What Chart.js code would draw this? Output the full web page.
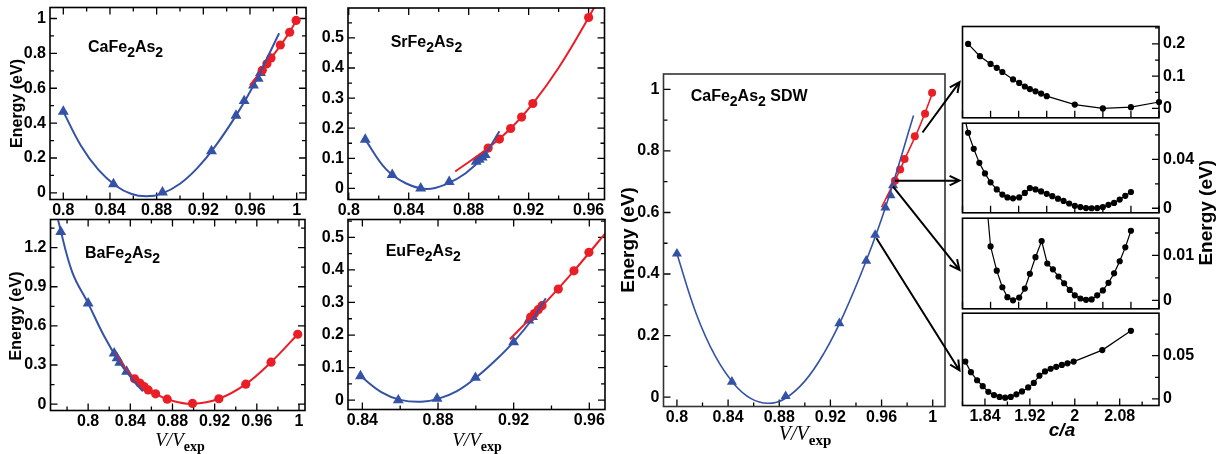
<!DOCTYPE html>
<html>
<head>
<meta charset="utf-8">
<script src="https://cdn.jsdelivr.net/npm/chart.js@4.4.1/dist/chart.umd.min.js"></script>
<style>
html, body { margin: 0; padding: 0; background: #fff; }
#fig { position: relative; width: 1223px; height: 454px; overflow: hidden; background: #fff; }
#fig canvas { position: absolute; }
</style>
</head>
<body>
<div id="fig"></div>
<script>
// ---- CaFe2As2 (top-left panel and the SDW panel) ----
const caTriV = [0.800, 0.843, 0.885, 0.927, 0.948, 0.955, 0.963, 0.967, 0.969];
const caTriE = [0.466, 0.050, 0.003, 0.240, 0.443, 0.527, 0.616, 0.656, 0.688];
const caCircV = [0.9705, 0.9745, 0.978, 0.986, 0.994, 0.9995];
const caCircE = [0.703, 0.740, 0.774, 0.848, 0.921, 0.989];
const caBlueFitV = [0.800, 0.815, 0.830, 0.845, 0.858, 0.871, 0.884, 0.900, 0.915, 0.930, 0.948, 0.963, 0.985];
const caBlueFitE = [0.466, 0.272, 0.133, 0.041, -0.005, -0.020, -0.006, 0.052, 0.143, 0.265, 0.443, 0.616, 0.915];
const caRedFitV = [0.960, 0.970, 0.980, 0.990, 1.000];
const caRedFitE = [0.617, 0.700, 0.790, 0.882, 0.990];

// ---- SrFe2As2 ----
const srTriV = [0.811, 0.829, 0.848, 0.867, 0.885, 0.887, 0.889, 0.891];
const srTriE = [0.162, 0.045, 0.000, 0.022, 0.089, 0.096, 0.103, 0.111];
const srCircV = [0.893, 0.9005, 0.908, 0.9153, 0.9228, 0.960];
const srCircE = [0.134, 0.164, 0.199, 0.237, 0.282, 0.568];
const srBlueFitV = [0.811, 0.825, 0.838, 0.852, 0.865, 0.878, 0.890, 0.9005];
const srBlueFitE = [0.162, 0.063, 0.017, -0.002, 0.014, 0.050, 0.108, 0.190];
const srRedFitV = [0.871, 0.893, 0.908, 0.9228, 0.940, 0.960, 0.972];
const srRedFitE = [0.056, 0.134, 0.199, 0.282, 0.401, 0.568, 0.680];

// ---- BaFe2As2 ----
const baTriV = [0.774, 0.800, 0.8247, 0.8275, 0.830, 0.8365];
const baTriE = [1.322, 0.773, 0.390, 0.352, 0.318, 0.250];
const baCircV = [0.844, 0.849, 0.853, 0.857, 0.864, 0.875, 0.899, 0.924, 0.9495, 0.9735, 0.9988];
const baCircE = [0.194, 0.161, 0.135, 0.109, 0.079, 0.038, 0.005, 0.041, 0.153, 0.322, 0.536];
const baBlueFitV = [0.7715, 0.785, 0.800, 0.815, 0.830, 0.842, 0.852];
const baBlueFitE = [1.410, 1.010, 0.773, 0.525, 0.318, 0.190, 0.097];
const baRedFitV = [0.824, 0.844, 0.864, 0.880, 0.899, 0.924, 0.9495, 0.9735, 0.9988];
const baRedFitE = [0.403, 0.194, 0.079, 0.025, 0.002, 0.041, 0.153, 0.322, 0.536];

// ---- EuFe2As2 ----
const euTriV = [0.839, 0.859, 0.8795, 0.8998, 0.920, 0.928, 0.930];
const euTriE = [0.074, 0.000, 0.005, 0.069, 0.178, 0.245, 0.256];
const euCircV = [0.929, 0.931, 0.933, 0.935, 0.9436, 0.9519, 0.9598];
const euCircE = [0.255, 0.266, 0.278, 0.290, 0.341, 0.397, 0.454];
const euBlueFitV = [0.839, 0.850, 0.860, 0.871, 0.880, 0.890, 0.900, 0.910, 0.920, 0.930, 0.937];
const euBlueFitE = [0.074, 0.025, 0.001, -0.005, 0.004, 0.028, 0.069, 0.120, 0.179, 0.250, 0.313];
const euRedFitV = [0.918, 0.9356, 0.9519, 0.970];
const euRedFitE = [0.187, 0.292, 0.397, 0.523];

// ---- c/a scans (right column, top to bottom) ----
const r1CA = [1.810, 1.831, 1.850, 1.861, 1.871, 1.890, 1.901, 1.911, 1.920, 1.930, 1.940, 1.950, 2.000, 2.050, 2.100, 2.150];
const r1E  = [0.200, 0.162, 0.138, 0.126, 0.113, 0.090, 0.079, 0.068, 0.060, 0.053, 0.046, 0.038, 0.012, 0.000, 0.004, 0.020];
const r2CA = [1.800, 1.810, 1.820, 1.830, 1.840, 1.850, 1.861, 1.871, 1.880, 1.890, 1.901, 1.911, 1.920, 1.930, 1.940, 1.950,
              1.960, 1.970, 1.980, 1.990, 2.000, 2.010, 2.020, 2.030, 2.040, 2.050, 2.060, 2.070, 2.080, 2.090, 2.100];
const r2E  = [0.0820, 0.0617, 0.0486, 0.0371, 0.0285, 0.0212, 0.0154, 0.0112, 0.0089, 0.0081, 0.0089, 0.0125, 0.0165, 0.0154, 0.0138, 0.0118,
              0.0099, 0.0078, 0.0060, 0.0039, 0.0020, 0.0010, 0.0002, 0.0000, 0.0002, 0.0010, 0.0028, 0.0044, 0.0071, 0.0102, 0.0133];
const r3CA = [1.840, 1.850, 1.861, 1.871, 1.880, 1.890, 1.901, 1.911, 1.920, 1.930, 1.941, 1.951, 1.961, 1.971, 1.981, 1.991,
              2.000, 2.010, 2.020, 2.030, 2.040, 2.050, 2.060, 2.070, 2.080, 2.090, 2.100];
const r3E  = [0.0260, 0.0120, 0.0066, 0.0029, 0.0007, 0.0000, 0.0006, 0.0026, 0.0059, 0.0096, 0.0132, 0.0082, 0.0069, 0.0053, 0.0038, 0.0023,
              0.0011, 0.0004, 0.0001, 0.0002, 0.0011, 0.0022, 0.0039, 0.0060, 0.0087, 0.0118, 0.0155];
const r4CA = [1.805, 1.815, 1.826, 1.836, 1.846, 1.856, 1.866, 1.876, 1.886, 1.896, 1.906, 1.917, 1.927, 1.937, 1.947, 1.957,
              1.967, 1.977, 1.987, 1.998, 2.049, 2.100];
const r4E  = [0.0432, 0.0310, 0.0216, 0.0148, 0.0083, 0.0045, 0.0023, 0.0015, 0.0023, 0.0053, 0.0087, 0.0133, 0.0185, 0.0269, 0.0318, 0.0349,
              0.0372, 0.0394, 0.0412, 0.0432, 0.0565, 0.0788];

// ---- styling ----
const SANS = '"Liberation Sans", Arial, Helvetica, sans-serif';
const SERIF = '"Liberation Serif", "Times New Roman", serif';
const BLUE = 'rgb(52,82,166)';
const RED = 'rgb(234,30,38)';
const fig = document.getElementById('fig');

const fmt = v => String(parseFloat(v.toFixed(4)));
const isMajor = (v, m) => Math.abs(v / m - Math.round(v / m)) < 1e-6;
const pts = (xs, ys) => xs.map((x, i) => ({x: x, y: ys[i]}));

const tri = (d, r) => ({data: d, pointStyle: 'triangle', pointRadius: r, backgroundColor: BLUE, borderColor: BLUE, borderWidth: 0, showLine: false});
const dot = (d, r, col) => ({data: d, pointStyle: 'circle', pointRadius: r, backgroundColor: col, borderColor: col, borderWidth: 0, showLine: false});
const fit = (d, col, w, t) => ({data: d, showLine: true, pointRadius: 0, borderColor: col, backgroundColor: col, borderWidth: w, tension: t, clip: 0});

function axis(pos, min, max, step, major, size, labels, fs, pad) {
    return {
        type: 'linear', position: pos, min: min, max: max,
        grid: {display: false, drawTicks: false},
        border: {display: false},
        ticks: {
            stepSize: step, includeBounds: false, autoSkip: false, maxRotation: 0, minRotation: 0,
            padding: pad, color: '#000', font: {family: SANS, weight: 'bold', size: fs},
            callback: v => (labels && isMajor(v, major)) ? fmt(v) : ''
        },
        afterFit: s => {
            if (s.isHorizontal()) s.height = size; else s.width = size;
            s.paddingLeft = 0; s.paddingRight = 0; s.paddingTop = 0; s.paddingBottom = 0;
        }
    };
}

// inward tick marks + frame
function framePlugin(o) {
    return {
        id: 'frame',
        beforeDatasetsDraw(chart) {
            const {ctx, chartArea: a} = chart;
            const sx = chart.scales.x, sy = chart.scales.y;
            ctx.save();
            ctx.strokeStyle = '#000';
            ctx.lineWidth = 1.3;
            ctx.beginPath();
            sx.ticks.forEach(t => {
                const p = sx.getPixelForValue(t.value);
                const L = isMajor(t.value, o.xMajor) ? 7 : 4;
                if (o.sides.includes('b')) { ctx.moveTo(p, a.bottom); ctx.lineTo(p, a.bottom - L); }
                if (o.sides.includes('t')) { ctx.moveTo(p, a.top); ctx.lineTo(p, a.top + L); }
            });
            sy.ticks.forEach(t => {
                const p = sy.getPixelForValue(t.value);
                const L = isMajor(t.value, o.yMajor) ? 7 : 4;
                if (o.sides.includes('l')) { ctx.moveTo(a.left, p); ctx.lineTo(a.left + L, p); }
                if (o.sides.includes('r')) { ctx.moveTo(a.right, p); ctx.lineTo(a.right - L, p); }
            });
            ctx.stroke();
            ctx.restore();
        },
        afterDatasetsDraw(chart) {
            const {ctx, chartArea: a} = chart;
            ctx.save();
            ctx.strokeStyle = o.frameColor || '#000';
            ctx.lineWidth = 1.6;
            ctx.strokeRect(a.left, a.top, a.right - a.left, a.bottom - a.top);
            ctx.restore();
        }
    };
}

// free text (labels, axis titles with subscripts), offsets from chart area top-left
function drawRuns(ctx, x, y, it) {
    ctx.save();
    ctx.translate(x, y);
    if (it.rot) ctx.rotate(it.rot);
    ctx.fillStyle = '#000';
    ctx.textBaseline = 'alphabetic';
    ctx.textAlign = 'left';
    let w = 0;
    it.runs.forEach(r => { ctx.font = r.font; w += ctx.measureText(r.t).width; });
    let cx = it.center ? -w / 2 : 0;
    it.runs.forEach(r => { ctx.font = r.font; ctx.fillText(r.t, cx, r.dy || 0); cx += ctx.measureText(r.t).width; });
    ctx.restore();
}
function notesPlugin(items) {
    return {
        id: 'notes',
        afterDraw(chart) {
            const a = chart.chartArea;
            items.forEach(it => drawRuns(chart.ctx, a.left + it.x, a.top + it.y, it));
        }
    };
}

const chem = (a, b, extra, fs) => {
    const F = `bold ${fs}px ${SANS}`, S = `bold ${fs - 2}px ${SANS}`;
    const r = [{t: a, font: F}, {t: '2', font: S, dy: 5}, {t: b, font: F}, {t: '2', font: S, dy: 5}];
    if (extra) r.push({t: extra, font: F});
    return r;
};
const vvexp = fs => [{t: 'V/V', font: `italic ${fs}px ${SERIF}`}, {t: 'exp', font: `bold ${fs - 5}px ${SERIF}`, dy: 5}];
const energy = fs => [{t: 'Energy (eV)', font: `bold ${fs}px ${SANS}`}];

function panel(a, c, cfg) {
    const cv = document.createElement('canvas');
    cv.width = c.r - c.l;
    cv.height = c.b - c.t;
    cv.style.left = c.l + 'px';
    cv.style.top = c.t + 'px';
    fig.appendChild(cv);
    const right = cfg.yPos === 'right';
    const fs = cfg.fs || 16;
    const x = axis('bottom', cfg.x[0], cfg.x[1], cfg.x[2], cfg.x[3], c.b - a.b, cfg.xLabels !== false, fs, 1);
    const y = axis(right ? 'right' : 'left', cfg.y[0], cfg.y[1], cfg.y[2], cfg.y[3],
        right ? c.r - a.r : a.l - c.l, true, fs, 4);
    return new Chart(cv, {
        type: 'scatter',
        data: {datasets: cfg.datasets},
        options: {
            responsive: false, animation: false, events: [],
            layout: {padding: {top: a.t - c.t, bottom: 0, left: right ? a.l - c.l : 0, right: right ? 0 : c.r - a.r}},
            scales: {x: x, y: y},
            plugins: {legend: {display: false}, tooltip: {enabled: false}}
        },
        plugins: [framePlugin({sides: cfg.sides, xMajor: cfg.x[3], yMajor: cfg.y[3], frameColor: cfg.frameColor}), notesPlugin(cfg.notes || [])]
    });
}

// ---- left block: four compounds ----
const chA = panel({l: 50, t: 7.5, r: 306, b: 199.5}, {l: 0, t: 0, r: 314, b: 217}, {
    x: [0.7886, 1.008, 0.02, 0.04], y: [-0.038, 1.063, 0.1, 0.2], sides: 'btlr',
    datasets: [fit(pts(caBlueFitV, caBlueFitE), BLUE, 2, 0.4), fit(pts(caRedFitV, caRedFitE), RED, 2, 0.3),
               dot(pts(caCircV, caCircE), 4.6, RED), tri(pts(caTriV, caTriE), 6.3)],
    notes: [{x: 38, y: 44.5, runs: chem('CaFe', 'As', '', 16)}, {x: -28, y: 96, rot: -Math.PI / 2, center: true, runs: energy(16)}]
});
const chB = panel({l: 348, t: 8, r: 604.5, b: 199.5}, {l: 316, t: 0, r: 612, b: 217}, {
    x: [0.7995, 0.9706, 0.02, 0.04], y: [-0.037, 0.5995, 0.05, 0.1], sides: 'btlr',
    datasets: [fit(pts(srBlueFitV, srBlueFitE), BLUE, 2, 0.4), fit(pts(srRedFitV, srRedFitE), RED, 2, 0.4),
               dot(pts(srCircV, srCircE), 4.6, RED), tri(pts(srTriV, srTriE), 6.3)],
    notes: [{x: 42.7, y: 39, runs: chem('SrFe', 'As', '', 16)}]
});
const chC = panel({l: 50.5, t: 219.5, r: 305, b: 410.5}, {l: 0, t: 212, r: 314, b: 454}, {
    x: [0.7643, 1.0057, 0.02, 0.04], y: [-0.049, 1.416, 0.15, 0.3], sides: 'btlr',
    datasets: [fit(pts(baBlueFitV, baBlueFitE), BLUE, 2, 0.4), fit(pts(baRedFitV, baRedFitE), RED, 2, 0.4),
               dot(pts(baCircV, baCircE), 4.6, RED), tri(pts(baTriV, baTriE), 6.3)],
    notes: [{x: 34.5, y: 38, runs: chem('BaFe', 'As', '', 16)}, {x: -29.5, y: 96.5, rot: -Math.PI / 2, center: true, runs: energy(16)},
            {x: 129.5, y: 226.5, center: true, runs: vvexp(19)}]
});
const chD = panel({l: 348, t: 219.5, r: 605, b: 409.5}, {l: 316, t: 212, r: 612, b: 454}, {
    x: [0.8324, 0.9683, 0.02, 0.04], y: [-0.0286, 0.5547, 0.05, 0.1], sides: 'btlr',
    datasets: [fit(pts(euBlueFitV, euBlueFitE), BLUE, 2, 0.4), fit(pts(euRedFitV, euRedFitE), RED, 2, 0.3),
               dot(pts(euCircV, euCircE), 4.6, RED), tri(pts(euTriV, euTriE), 6.3)],
    notes: [{x: 37.7, y: 36.5, runs: chem('EuFe', 'As', '', 16)}, {x: 129, y: 226.5, center: true, runs: vvexp(19)}]
});

// ---- middle: CaFe2As2 SDW ----
const chM = panel({l: 663.5, t: 74, r: 945, b: 406.5}, {l: 612, t: 66, r: 952, b: 454}, {
    x: [0.7895, 1.0096, 0.02, 0.04], y: [-0.0305, 1.05, 0.1, 0.2], sides: 'bl', fs: 16, frameColor: '#333',
    datasets: [fit(pts(caBlueFitV, caBlueFitE), BLUE, 1.6, 0.4), fit(pts(caRedFitV, caRedFitE), RED, 1.6, 0.3),
               dot(pts(caCircV, caCircE), 4, RED), tri(pts(caTriV, caTriE), 5.8)],
    notes: [{x: 27.2, y: 27, runs: chem('CaFe', 'As', ' SDW', 16)}, {x: -29.5, y: 166, rot: -Math.PI / 2, center: true, runs: energy(19)},
            {x: 141.5, y: 366, center: true, runs: vvexp(20)}]
});

// ---- right column: c/a scans ----
const blk = d => ({data: d, showLine: true, pointStyle: 'circle', pointRadius: 2.5, backgroundColor: '#000', borderColor: '#000',
                   borderWidth: 1.2, tension: 0, clip: {left: 5, right: 5, top: 0, bottom: 5}});
const chR1 = panel({l: 962.5, t: 26.5, r: 1159, b: 120.5}, {l: 956, t: 20, r: 1200, b: 123}, {
    x: [1.8, 2.15, 0.05, 0.05], xLabels: false, y: [-0.029, 0.254, 0.05, 0.1], yPos: 'right', sides: 'br', fs: 16,
    datasets: [blk(pts(r1CA, r1E))]
});
const chR2 = panel({l: 962.5, t: 120.5, r: 1159, b: 215.5}, {l: 956, t: 118, r: 1200, b: 218}, {
    x: [1.8, 2.15, 0.05, 0.05], xLabels: false, y: [-0.0037, 0.0695, 0.02, 0.04], yPos: 'right', sides: 'br', fs: 16,
    datasets: [blk(pts(r2CA, r2E))]
});
const chR3 = panel({l: 962.5, t: 215.5, r: 1159, b: 311}, {l: 956, t: 213, r: 1200, b: 314}, {
    x: [1.8, 2.15, 0.05, 0.05], xLabels: false, y: [-0.0019, 0.0183, 0.005, 0.01], yPos: 'right', sides: 'br', fs: 16,
    datasets: [blk(pts(r3CA, r3E))]
});
const chR4 = panel({l: 962.5, t: 311, r: 1159, b: 405.5}, {l: 956, t: 308, r: 1200, b: 454}, {
    x: [1.8, 2.15, 0.04, 0.08], y: [-0.0076, 0.0992, 0.025, 0.05], yPos: 'right', sides: 'br', fs: 16,
    datasets: [blk(pts(r4CA, r4E))],
    notes: [{x: 99.5, y: 123, center: true, runs: [{t: 'c/a', font: `italic bold 19px ${SANS}`}]}]
});

// ---- overlay: arrows from the SDW curve to the c/a scans, shared y title ----
const ov = document.createElement('canvas');
ov.width = 1223; ov.height = 454;
ov.style.left = '0px'; ov.style.top = '0px';
fig.appendChild(ov);
const o = ov.getContext('2d');
const pageXY = (ch, x, y) => [parseFloat(ch.canvas.style.left) + ch.scales.x.getPixelForValue(x),
                              parseFloat(ch.canvas.style.top) + ch.scales.y.getPixelForValue(y)];
const pageArea = ch => {
    const a = ch.chartArea, l = parseFloat(ch.canvas.style.left), t = parseFloat(ch.canvas.style.top);
    return {l: l + a.left, t: t + a.top, r: l + a.right, b: t + a.bottom};
};
const arrows = [
    {from: [0.992, 0.86], to: chR1, f: 0.61},
    {from: [0.9705, 0.703], to: chR2, f: 0.64},
    {from: [0.969, 0.684], to: chR3, f: 0.57},
    {from: [0.956, 0.516], to: chR4, f: 0.62}
];
o.strokeStyle = '#000';
o.lineWidth = 2;
arrows.forEach(ar => {
    const [x0, y0] = pageXY(chM, ar.from[0], ar.from[1]);
    const pa = pageArea(ar.to);
    const x1 = pa.l - 3, y1 = pa.t + ar.f * (pa.b - pa.t);
    const ang = Math.atan2(y1 - y0, x1 - x0), h = 11, s = 0.45;
    o.beginPath();
    o.moveTo(x0, y0); o.lineTo(x1, y1);
    o.moveTo(x1 - h * Math.cos(ang - s), y1 - h * Math.sin(ang - s));
    o.lineTo(x1, y1);
    o.lineTo(x1 - h * Math.cos(ang + s), y1 - h * Math.sin(ang + s));
    o.stroke();
});
const p2 = pageArea(chR2);
drawRuns(o, 1212, p2.b, {rot: -Math.PI / 2, center: true, runs: energy(19)});
</script>
</body>
</html>
